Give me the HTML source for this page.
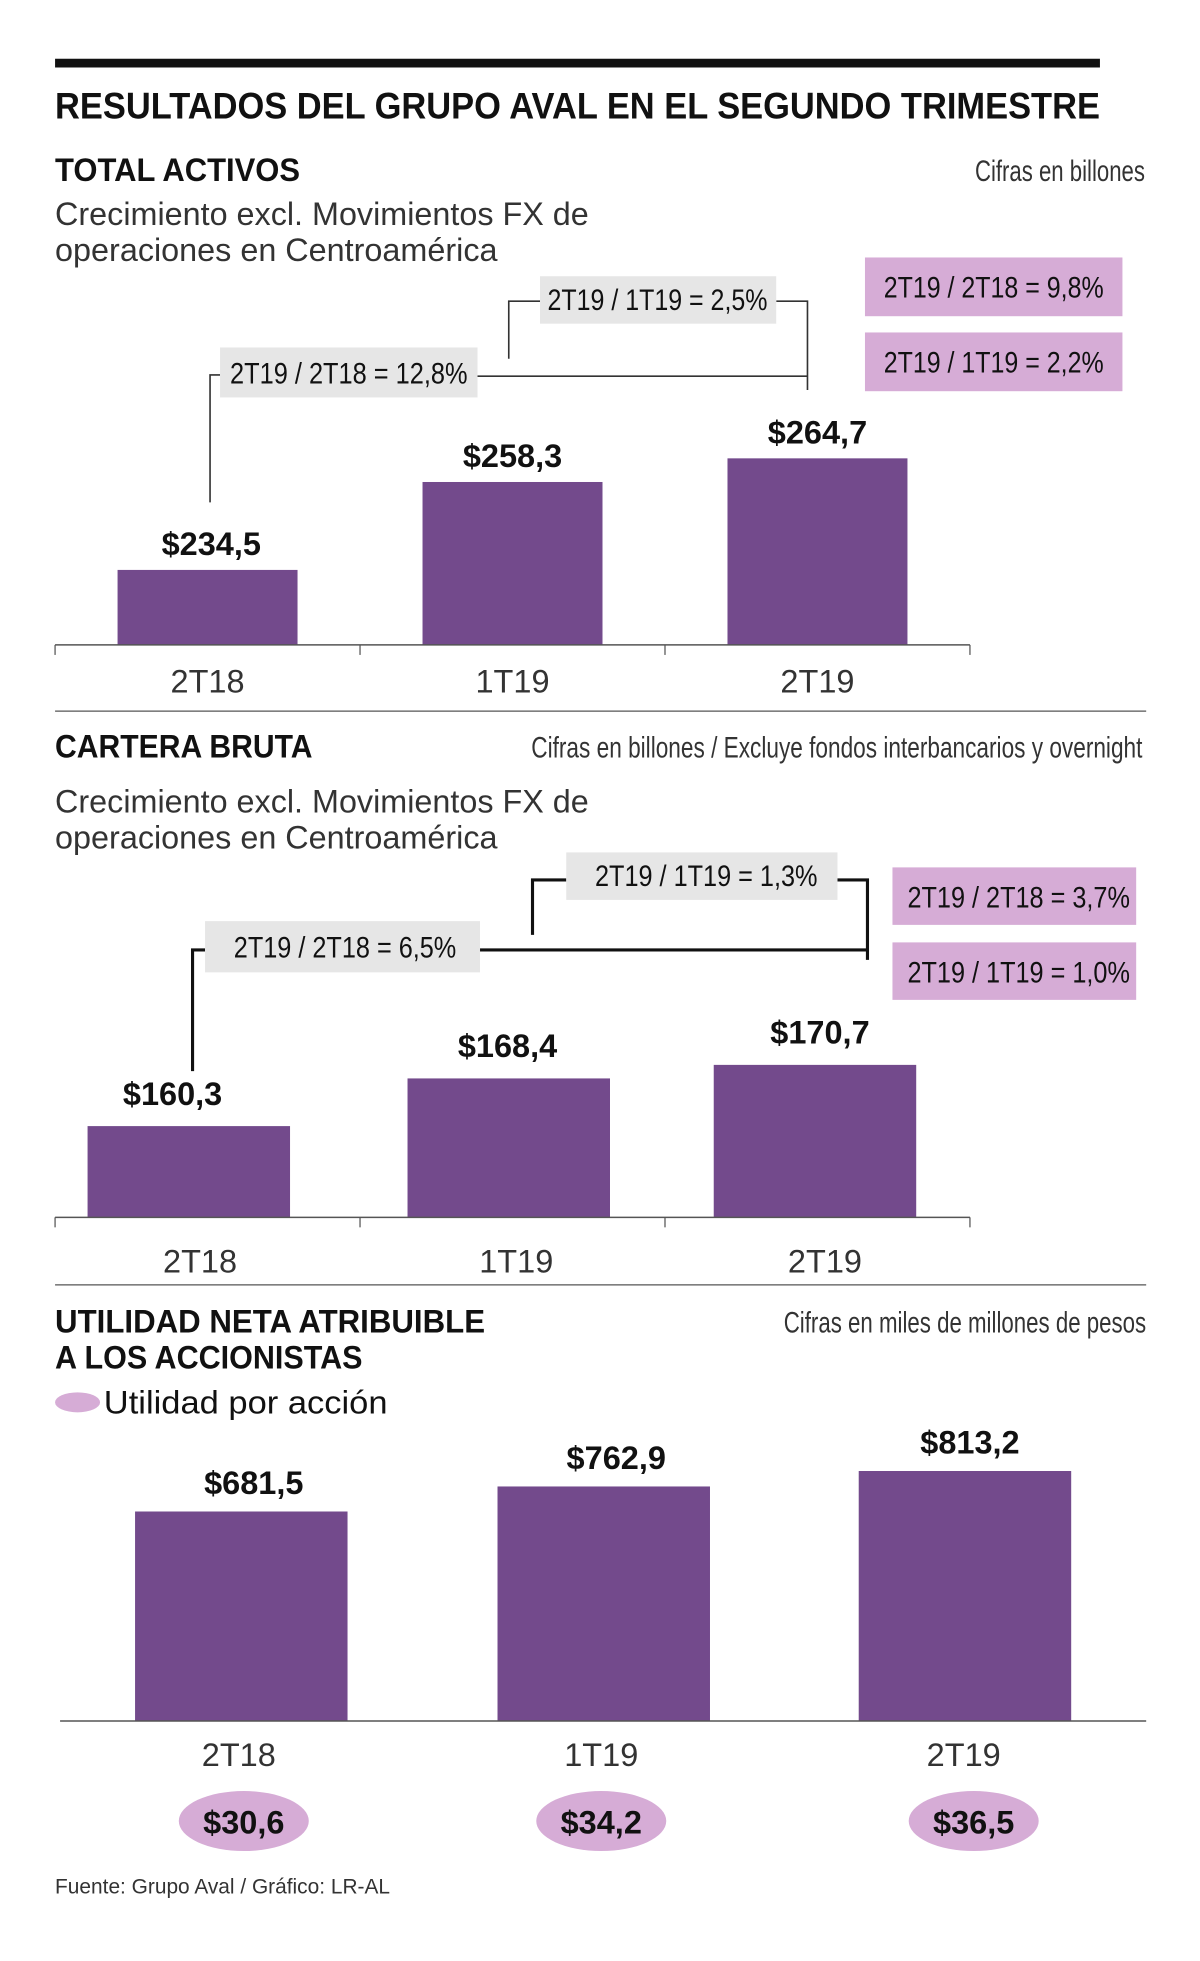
<!DOCTYPE html>
<html><head><meta charset="utf-8"><style>
html,body{margin:0;padding:0;background:#fff}
svg{display:block}
text{font-family:"Liberation Sans Narrow","Liberation Sans",sans-serif}
.b{font-weight:bold}
</style></head><body>
<svg id="c" width="1200" height="1961" viewBox="0 0 960 1569" xmlns="http://www.w3.org/2000/svg">
<rect x="44" y="47" width="836" height="7" fill="#111"/>
<text x="44" y="95" font-size="30" class="b" textLength="836" lengthAdjust="spacingAndGlyphs" fill="#111">RESULTADOS DEL GRUPO AVAL EN EL SEGUNDO TRIMESTRE</text>

<text x="44" y="145" font-size="26" class="b" textLength="196" lengthAdjust="spacingAndGlyphs" fill="#111">TOTAL ACTIVOS</text>
<text x="916" y="145" font-size="24" text-anchor="end" textLength="136" lengthAdjust="spacingAndGlyphs" fill="#333">Cifras en billones</text>
<text x="44" y="180" font-size="26" fill="#333" textLength="427" lengthAdjust="spacingAndGlyphs">Crecimiento excl. Movimientos FX de</text>
<text x="44" y="209" font-size="26" fill="#333" textLength="354" lengthAdjust="spacingAndGlyphs">operaciones en Centroamérica</text>

<g fill="none" stroke="#333" stroke-width="1.3">
<polyline points="168,402 168,300 176,300"/>
<polyline points="382,301 646,301"/>
<polyline points="646,312 646,241 621,241"/>
<polyline points="407,287 407,241 432,241"/>
</g>
<rect x="176" y="278" width="206" height="40" fill="#e6e6e6"/>
<text x="279" y="307" font-size="24" text-anchor="middle" textLength="190" lengthAdjust="spacingAndGlyphs" fill="#111">2T19 / 2T18 = 12,8%</text>
<rect x="432" y="221" width="189" height="38" fill="#e6e6e6"/>
<text x="526" y="248" font-size="24" text-anchor="middle" textLength="176" lengthAdjust="spacingAndGlyphs" fill="#111">2T19 / 1T19 = 2,5%</text>
<rect x="692" y="206" width="206" height="47" fill="#d6acd6"/>
<text x="795" y="238" font-size="24" text-anchor="middle" textLength="176" lengthAdjust="spacingAndGlyphs" fill="#111">2T19 / 2T18 = 9,8%</text>
<rect x="692" y="266" width="206" height="47" fill="#d6acd6"/>
<text x="795" y="298" font-size="24" text-anchor="middle" textLength="176" lengthAdjust="spacingAndGlyphs" fill="#111">2T19 / 1T19 = 2,2%</text>

<line x1="44" y1="569" x2="917" y2="569" stroke="#555" stroke-width="1"/>
<text x="44" y="606" font-size="26" class="b" textLength="206" lengthAdjust="spacingAndGlyphs" fill="#111">CARTERA BRUTA</text>
<text x="914" y="606" font-size="24" text-anchor="end" textLength="489" lengthAdjust="spacingAndGlyphs" fill="#333">Cifras en billones / Excluye fondos interbancarios y overnight</text>
<text x="44" y="650" font-size="26" fill="#333" textLength="427" lengthAdjust="spacingAndGlyphs">Crecimiento excl. Movimientos FX de</text>
<text x="44" y="679" font-size="26" fill="#333" textLength="354" lengthAdjust="spacingAndGlyphs">operaciones en Centroamérica</text>

<g fill="none" stroke="#111" stroke-width="2.5">
<polyline points="154,857 154,760 164,760"/>
<polyline points="384,760 694,760"/>
<polyline points="694,768 694,704 670,704"/>
<polyline points="426,748 426,704 453,704"/>
</g>
<rect x="164" y="737" width="220" height="41" fill="#e6e6e6"/>
<text x="276" y="766" font-size="24" text-anchor="middle" textLength="178" lengthAdjust="spacingAndGlyphs" fill="#111">2T19 / 2T18 = 6,5%</text>
<rect x="453" y="682" width="217" height="38" fill="#e6e6e6"/>
<text x="565" y="709" font-size="24" text-anchor="middle" textLength="178" lengthAdjust="spacingAndGlyphs" fill="#111">2T19 / 1T19 = 1,3%</text>
<rect x="714" y="694" width="195" height="46" fill="#d6acd6"/>
<text x="815" y="726" font-size="24" text-anchor="middle" textLength="178" lengthAdjust="spacingAndGlyphs" fill="#111">2T19 / 2T18 = 3,7%</text>
<rect x="714" y="754" width="195" height="46" fill="#d6acd6"/>
<text x="815" y="786" font-size="24" text-anchor="middle" textLength="178" lengthAdjust="spacingAndGlyphs" fill="#111">2T19 / 1T19 = 1,0%</text>

<line x1="44" y1="1028" x2="917" y2="1028" stroke="#555" stroke-width="1"/>
<text x="44" y="1066" font-size="26" class="b" textLength="344" lengthAdjust="spacingAndGlyphs" fill="#111">UTILIDAD NETA ATRIBUIBLE</text>
<text x="44" y="1095" font-size="26" class="b" textLength="246" lengthAdjust="spacingAndGlyphs" fill="#111">A LOS ACCIONISTAS</text>
<text x="917" y="1066" font-size="24" text-anchor="end" textLength="290" lengthAdjust="spacingAndGlyphs" fill="#333">Cifras en miles de millones de pesos</text>
<ellipse cx="62" cy="1122" rx="18" ry="8" fill="#d6acd6"/>
<text x="83" y="1131" font-size="26" fill="#111" textLength="227" lengthAdjust="spacingAndGlyphs">Utilidad por acción</text>

<text x="44" y="1515" font-size="17" fill="#333" textLength="268" lengthAdjust="spacingAndGlyphs">Fuente: Grupo Aval / Gráfico: LR-AL</text>
</svg>
<script>
const categories = ["2T18", "1T19", "2T19"];
const activosValues = [234.5, 258.3, 264.7];
const carteraValues = [160.3, 168.4, 170.7];
const utilidadValues = [681.5, 762.9, 813.2];
const epsValues = [30.6, 34.2, 36.5];

const svg = document.getElementById('c');
const NS = 'http://www.w3.org/2000/svg';
function fmt(v){ return '$' + v.toFixed(1).replace('.', ','); }
function mk(tag, attrs){ const e = document.createElementNS(NS, tag); for (const k in attrs) e.setAttribute(k, attrs[k]); svg.appendChild(e); return e; }

function drawChart(prefix, values, cfg){
  const y = v => cfg.base - cfg.scale * (v - cfg.min);
  values.forEach((v, i) => {
    const cx = cfg.centers[i];
    const r = mk('rect', {x: cx - cfg.bw/2, y: y(v), width: cfg.bw, height: cfg.base - y(v), fill: '#734a8c'});
    
    
    const t = mk('text', {x: cfg.valX[i], y: y(v) - cfg.gap, 'font-size': 26, 'font-weight': 'bold', 'text-anchor': 'middle', fill: '#111'});
    t.textContent = fmt(v);
    
    
    const c = mk('text', {x: cfg.labelX[i], y: cfg.labelY, 'font-size': 26, 'text-anchor': 'middle', fill: '#333'});
    c.textContent = categories[i];
    
    
  });
  const ax = mk('line', {x1: cfg.ax0, y1: cfg.base, x2: cfg.ax1, y2: cfg.base, stroke: '#555', 'stroke-width': 1.2});
  
  
  if (cfg.ticks) cfg.ticks.forEach(tx => {
    const tk = mk('line', {x1: tx, y1: cfg.base, x2: tx, y2: cfg.base + 8, stroke: '#555', 'stroke-width': 1});
    
    
  });
}

drawChart('activos', activosValues, {base: 516, min: 214.2, scale: 2.956, bw: 144, gap: 12, centers: [166, 410, 654], valX: [169, 410, 654], labelX: [166, 410, 654], labelY: 554, ax0: 44, ax1: 776, ticks: [44, 288, 532, 776]});
drawChart('cartera', carteraValues, {base: 974, min: 144.8, scale: 4.71, bw: 162, gap: 17, centers: [151, 407, 652], valX: [138, 406, 656], labelX: [160, 413, 660], labelY: 1018, ax0: 44, ax1: 776, ticks: [44, 288, 532, 776]});
drawChart('utilidad', utilidadValues, {base: 1377, min: 0, scale: 0.246, bw: 170, gap: 14, centers: [193, 483, 772], valX: [203, 493, 776], labelX: [191, 481, 771], labelY: 1413, ax0: 48, ax1: 917, ticks: null});

const epsX = [195, 481, 779];
epsValues.forEach((v, i) => {
  const e = mk('ellipse', {cx: epsX[i], cy: 1457, rx: 52, ry: 24, fill: '#d6acd6'});
  
  
  const t = mk('text', {x: epsX[i], y: 1467, 'font-size': 26, 'font-weight': 'bold', 'text-anchor': 'middle', fill: '#111'});
  t.textContent = fmt(v);
  
  
});
</script>
</body></html>
